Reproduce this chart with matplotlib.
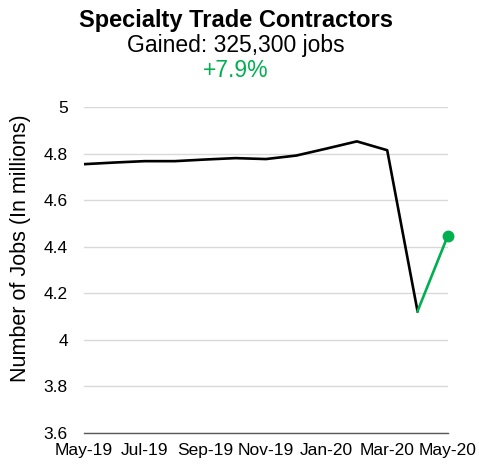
import matplotlib.pyplot as plt

plt.rcParams['font.family'] = ['Liberation Sans', 'DejaVu Sans']

# monthly jobs, in millions
months = ['May-19', 'Jun-19', 'Jul-19', 'Aug-19', 'Sep-19', 'Oct-19', 'Nov-19',
          'Dec-19', 'Jan-20', 'Feb-20', 'Mar-20', 'Apr-20', 'May-20']
jobs = [4.755, 4.762, 4.768, 4.768, 4.775, 4.781, 4.777,
        4.792, 4.822, 4.853, 4.815, 4.123, 4.448]
yticks = [3.6, 3.8, 4.0, 4.2, 4.4, 4.6, 4.8, 5.0]
ytick_labels = ['3.6', '3.8', '4', '4.2', '4.4', '4.6', '4.8', '5']

green = '#00B050'

fig = plt.figure(figsize=(4.79, 4.68), dpi=100)
ax = fig.add_axes([0.175, 0.075, 0.76, 0.696])

x = list(range(len(months)))
ax.plot(x[:-1], jobs[:-1], color='black', lw=1.9, zorder=3)
ax.plot(x[-2:], jobs[-2:], color=green, lw=1.9, zorder=3)
ax.plot(x[-1], jobs[-1], 'o', color=green, markersize=7.5, zorder=4, clip_on=False)

ax.set_xlim(0, len(months) - 1)
ax.set_ylim(3.6, 5.0)
ax.set_yticks(yticks)
ax.set_yticklabels(ytick_labels)
ax.set_xticks(x[::2])
ax.set_xticklabels(months[::2])
ax.tick_params(length=0, labelsize=12.5)
ax.tick_params(axis='y', pad=11.5)
ax.tick_params(axis='x', pad=7.5)

ax.grid(axis='y', color='#D9D9D9', lw=1)
ax.set_axisbelow(True)
for s in ['top', 'right', 'left']:
    ax.spines[s].set_visible(False)
ax.spines['bottom'].set_color('#595959')
ax.spines['bottom'].set_linewidth(1)

fig.text(0.042, 0.47, 'Number of Jobs (In millions)', rotation=90,
         ha='center', va='center', fontsize=15.5)

fig.text(0.493, 0.956, 'Specialty Trade Contractors', ha='center', va='center',
         fontsize=17, fontweight='bold')
fig.text(0.493, 0.903, 'Gained: 325,300 jobs', ha='center', va='center', fontsize=16.5)
fig.text(0.493, 0.85, '+7.9%', ha='center', va='center', fontsize=16.5, color=green)

fig.savefig('out.png', dpi=100)
